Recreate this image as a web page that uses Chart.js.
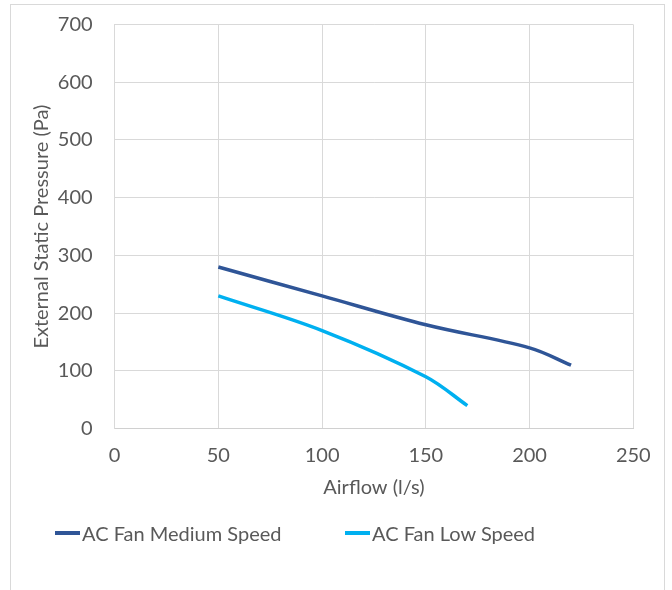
<!DOCTYPE html>
<html>
<head>
<meta charset="utf-8">
<script src="https://cdn.jsdelivr.net/npm/chart.js@4.4.1/dist/chart.umd.min.js"></script>
<style>
  html, body { margin: 0; padding: 0; background: #fff; }
  body { width: 672px; height: 590px; position: relative; overflow: hidden; font-family: Lato, sans-serif; }
  #frame { position: absolute; left: 10px; top: 4px; width: 655px; height: 590px; border: 1px solid #d9d9d9; box-sizing: border-box; }
  #wrap { position: absolute; left: 0; top: 0; width: 672px; height: 590px; }
  #legend { position: absolute; left: 55px; top: 521px; display: flex; font-size: 20px; line-height: 24px; color: #595959; }
  #legend .item { display: flex; align-items: center; }
  #legend .item:first-child { width: 290px; }
  #legend .swatch { width: 25px; height: 4px; margin-right: 2px; }
</style>
</head>
<body>
<div id="frame"></div>
<div id="wrap"><canvas id="chart" width="672" height="590"></canvas></div>
<div id="legend"></div>
<script>
// Courbes ventilateur : pression statique vs débit d'air
const airflowMedium = [50, 100, 150, 200, 220];
const pressureMedium = [280, 230, 180, 140, 110];
const airflowLow = [50, 100, 150, 170];
const pressureLow = [230, 170, 90, 40];
const seriesNames = ['AC Fan Medium Speed', 'AC Fan Low Speed'];
const xTicks = [0, 50, 100, 150, 200, 250];
const yTicks = [0, 100, 200, 300, 400, 500, 600, 700];

const GREY = '#595959';
const FONT = 'Lato, sans-serif';
const colors = ['#2f5597', '#00b0f0'];

const pts = (xs, ys) => xs.map((x, i) => ({ x, y: ys[i] }));

const chart = new Chart(document.getElementById('chart'), {
  type: 'line',
  data: {
    datasets: [
      { label: seriesNames[0], data: pts(airflowMedium, pressureMedium), borderColor: colors[0], backgroundColor: colors[0] },
      { label: seriesNames[1], data: pts(airflowLow, pressureLow), borderColor: colors[1], backgroundColor: colors[1] },
    ].map((d) => ({ ...d, borderWidth: 3.5, pointRadius: 0, tension: 0.35, fill: false })),
  },
  options: {
    responsive: false,
    animation: false,
    layout: { padding: { left: 0, top: 24.5, right: 38.7, bottom: 86 } },
    plugins: { legend: { display: false }, tooltip: { enabled: false } },
    scales: {
      x: {
        type: 'linear',
        min: xTicks[0], max: xTicks[xTicks.length - 1],
        afterBuildTicks: (s) => { s.ticks = xTicks.map((v) => ({ value: v })); },
        afterFit: (s) => { s.height = 75.3; },
        grid: { color: '#d9d9d9', drawTicks: false },
        border: { color: '#d0d0d0' },
        ticks: { color: GREY, font: { family: FONT, size: 20 }, padding: 15, maxRotation: 0 },
        title: { display: true, text: 'Airflow (l/s)', color: GREY, font: { family: FONT, size: 20 }, padding: { top: 0, bottom: 4 } },
      },
      y: {
        min: yTicks[0], max: yTicks[yTicks.length - 1],
        afterBuildTicks: (s) => { s.ticks = yTicks.map((v) => ({ value: v })); },
        afterFit: (s) => { s.width = 114.6; },
        // espace labels/axe via tickLength invisible (ticks.padding gonfle le haut du graphe)
        grid: { color: '#d9d9d9', tickLength: 22, tickColor: 'transparent' },
        border: { color: '#d9d9d9' },
        ticks: { color: GREY, font: { family: FONT, size: 20 }, padding: 0 },
        title: { display: true, text: 'External Static Pressure (Pa)', color: GREY, font: { family: FONT, size: 20 }, padding: { top: 30, bottom: 0 } },
      },
    },
  },
});

// Légende HTML (espacement façon Excel)
document.getElementById('legend').innerHTML = chart.data.datasets.map((d) =>
  `<div class="item"><span class="swatch" style="background:${d.borderColor}"></span><span>${d.label}</span></div>`).join('');
</script>
</body>
</html>
